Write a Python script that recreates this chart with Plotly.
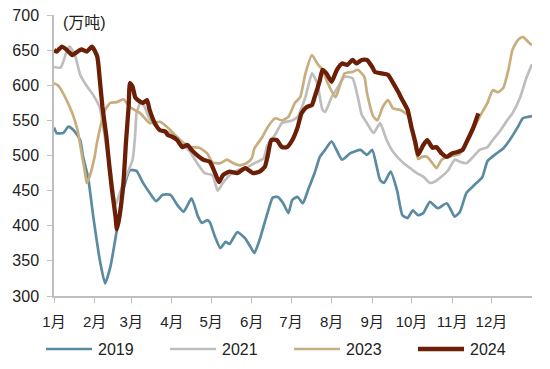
import plotly.graph_objects as go

# day-of-year positions and values (万吨)
d2019 = [0,2,7,11,15,20,22,26,30,35,39,43,48,53,58,63,68,73,78,83,89,94,99,105,110,113,117,119,123,127,131,134,140,146,150,153,157,163,167,171,175,179,182,186,190,194,199,203,207,212,220,226,234,239,243,249,252,257,262,266,270,274,278,282,287,293,300,306,310,315,321,327,331,338,343,348,354,358,362,365]
v2019 = [540,532,532,541,536,522,500,469,413,351,318,341,394,451,479,478,461,447,435,444,444,430,420,439,413,404,408,405,384,368,377,374,391,382,370,361,380,418,440,441,432,418,437,441,432,451,475,498,508,520,494,503,508,501,508,465,461,477,450,415,411,422,415,418,434,425,432,413,420,447,458,469,492,503,510,522,540,553,555,556]

d2021 = [0,5,7,10,12,16,20,25,30,35,37,40,44,47,50,53,60,62,63,66,69,73,81,89,95,98,104,109,115,121,125,129,134,140,146,153,160,163,169,174,182,186,192,197,201,205,207,212,217,222,228,232,235,239,244,249,254,259,267,272,277,282,287,291,296,301,306,310,315,320,325,331,335,341,346,350,356,361,365]
v2021 = [626,625,633,650,655,643,615,599,586,568,548,512,470,430,445,461,494,530,560,575,570,552,536,532,525,518,505,490,475,472,450,461,472,479,482,489,496,515,530,546,550,555,583,617,603,565,562,583,598,612,610,583,558,546,532,546,522,505,489,482,475,470,461,463,470,479,494,491,489,498,508,512,522,536,550,560,583,612,630]

d2023 = [0,3,8,14,18,21,24,25,27,31,33,39,43,48,53,58,66,73,81,89,96,104,111,117,121,127,132,137,142,147,151,153,159,163,169,174,179,184,188,192,197,201,205,209,215,218,222,228,232,237,239,244,247,251,255,259,264,270,274,278,281,285,289,292,296,300,306,310,315,320,325,331,335,339,343,347,350,354,358,362,365]
v2023 = [603,600,585,560,536,504,472,461,469,498,520,565,575,576,580,569,560,546,548,536,522,512,511,503,490,489,494,489,486,489,496,510,526,540,553,550,555,575,583,617,643,631,622,603,583,598,617,619,622,612,589,555,550,569,579,567,565,558,532,495,498,498,489,482,494,498,500,503,518,536,555,575,593,590,596,622,650,664,669,662,657]

d2024 = [0,2,6,10,14,18,21,25,29,33,35,37,40,41,44,47,48,50,53,55,57,58,60,62,64,68,71,73,77,81,85,87,90,94,98,102,105,109,114,119,123,126,129,134,140,146,152,157,161,163,166,170,174,178,182,186,189,193,197,199,203,205,208,212,216,220,224,228,231,235,239,243,245,250,255,259,263,266,270,273,276,278,282,285,289,292,296,300,304,308,312,315,320,324]
v2024 = [650,648,655,650,643,648,651,648,655,641,607,569,527,508,455,413,395,413,461,520,570,603,598,583,579,575,579,565,546,536,534,529,527,522,512,515,508,501,494,491,475,462,472,477,475,482,475,477,484,498,522,522,512,512,522,540,560,569,572,583,607,622,617,605,622,631,629,636,631,636,636,626,619,617,615,603,590,579,565,540,518,501,515,522,511,512,503,498,503,505,508,519,539,560]

month_days = [0,31,59,90,120,151,181,212,243,273,304,334]
month_labels = ["1月","2月","3月","4月","5月","6月","7月","8月","9月","10月","11月","12月"]

series = [
    ("2019", d2019, v2019, "#5A8BA2", 2.7),
    ("2021", d2021, v2021, "#BEBEBE", 2.7),
    ("2023", d2023, v2023, "#C8AE7E", 2.7),
    ("2024", d2024, v2024, "#6B1F07", 4.3),
]

font_family = "Liberation Sans, Arial, Noto Sans CJK SC, sans-serif"

# the page body adds an 8px offset; figure is sized to fit the 550x369 window
OFF = 8
FW, FH = 550 - OFF, 369 - OFF
L, R, T, B = 54 - OFF, 18, 15 - OFF, 73
W = FW - L - R
H = FH - T - B

def px_to_paper_x(px):
    return (px - OFF - L) / W

def py_to_paper_y(py):
    return (FH - B - (py - OFF)) / H

legend_y = py_to_paper_y(349)

fig = go.Figure()
shapes = []
annotations = [dict(text="(万吨)", x=px_to_paper_x(61), y=py_to_paper_y(22), xref="paper", yref="paper",
                    xanchor="left", yanchor="middle", showarrow=False,
                    font=dict(size=16, color="#222"))]
for i, (name, x, y, color, w) in enumerate(series):
    fig.add_trace(go.Scatter(x=x, y=y, name=name, mode="lines", showlegend=False,
                             line=dict(color=color, width=w, shape="spline", smoothing=0.5)))
    x0 = 46 + 124 * i
    shapes.append(dict(type="line", xref="paper", yref="paper",
                       x0=px_to_paper_x(x0), x1=px_to_paper_x(x0 + 46),
                       y0=legend_y, y1=legend_y, line=dict(color=color, width=w)))
    annotations.append(dict(text=name, x=px_to_paper_x(x0 + 50), y=legend_y, xref="paper", yref="paper",
                            xanchor="left", yanchor="middle", showarrow=False,
                            font=dict(size=16, color="#222")))

fig.update_layout(
    width=FW, height=FH,
    margin=dict(l=L, r=R, t=T, b=B, autoexpand=False),
    paper_bgcolor="white", plot_bgcolor="white",
    font=dict(family=font_family, size=13, color="#222"),
    showlegend=False,
    xaxis=dict(range=[0, 365], tickvals=month_days, ticktext=month_labels,
               showline=True, linecolor="#BFBFBF", linewidth=1.5, ticks="outside",
               tickcolor="#BFBFBF", ticklen=5, showgrid=False, zeroline=False,
               ticklabelstandoff=6, automargin=False, ticklabeloverflow="allow",
               tickfont=dict(size=15, color="#222")),
    yaxis=dict(range=[300, 700], dtick=50, showline=True, linecolor="#BFBFBF", linewidth=1.5,
               ticks="outside", tickcolor="#BFBFBF", ticklen=5, showgrid=False, zeroline=False,
               ticklabelstandoff=5, automargin=False, ticklabeloverflow="allow",
               tickfont=dict(size=16, color="#222")),
    shapes=shapes,
    annotations=annotations,
)

fig.write_html("out.html")
